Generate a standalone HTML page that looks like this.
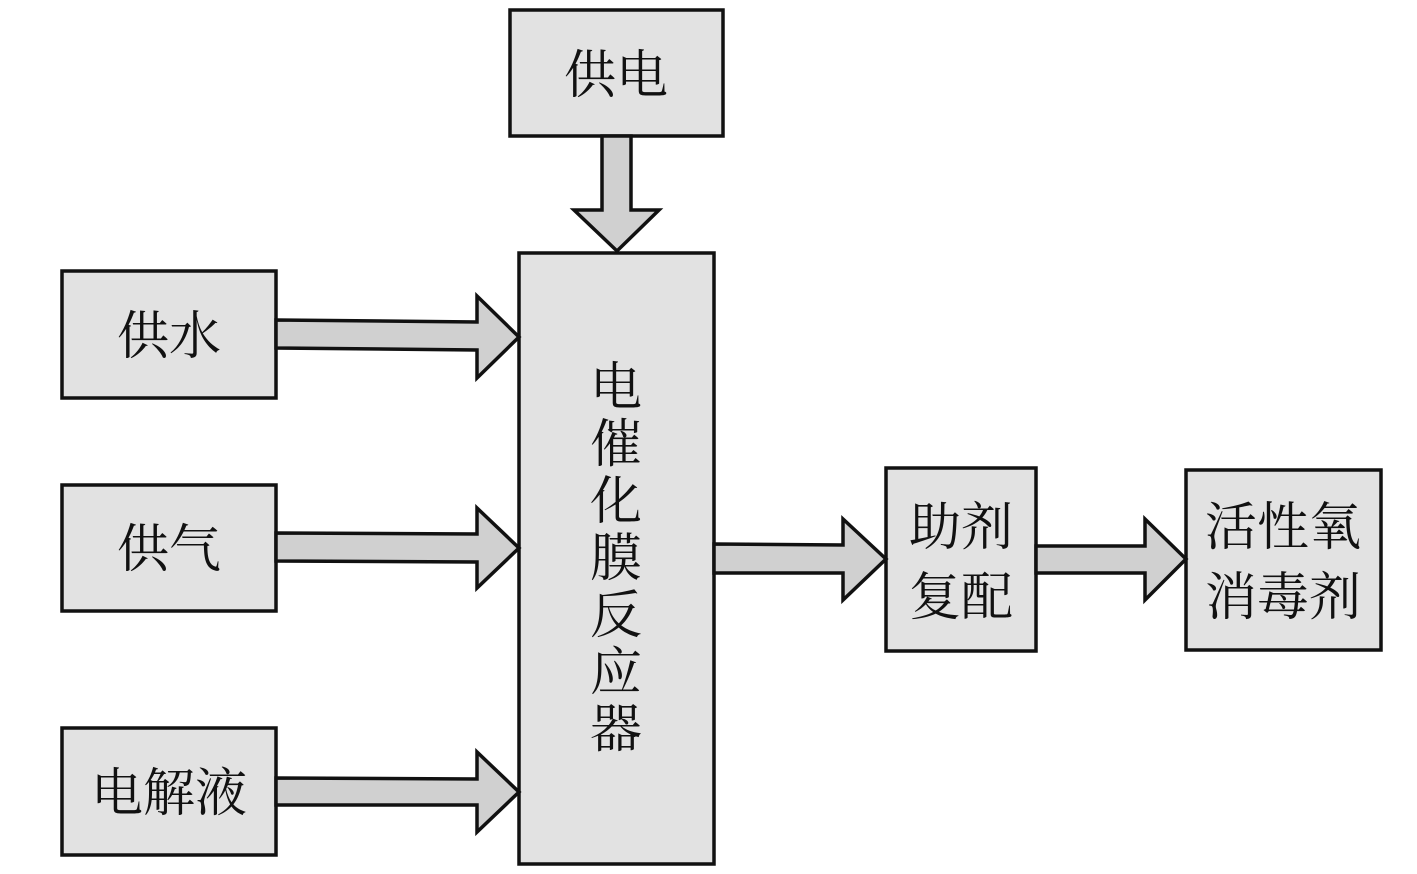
<!DOCTYPE html>
<html><head><meta charset="utf-8"><style>
html,body{margin:0;padding:0;background:#fff;width:1417px;height:874px;overflow:hidden}
text{font-family:"Liberation Serif","Noto Serif CJK SC",serif;font-size:52px;fill:#111}
</style></head><body>
<svg width="1417" height="874" viewBox="0 0 1417 874" xmlns="http://www.w3.org/2000/svg">
<g stroke="#111" stroke-width="3.5" stroke-linejoin="miter">
<rect x="510" y="10" width="213" height="126" fill="#e2e2e2"/>
<rect x="519" y="253" width="195" height="611" fill="#e2e2e2"/>
<rect x="62" y="271" width="214" height="127" fill="#e2e2e2"/>
<rect x="62" y="485" width="214" height="126" fill="#e2e2e2"/>
<rect x="62" y="728" width="214" height="127" fill="#e2e2e2"/>
<rect x="886" y="468" width="150" height="183" fill="#e2e2e2"/>
<rect x="1186" y="470" width="195" height="180" fill="#e2e2e2"/>
<!-- down arrow -->
<polygon points="602,136 631,136 631,210 659,210 617,251 574,210 602,210" fill="#d0d0d0"/>
<!-- left arrows -->
<polygon points="276,320 477,322 477,296 519,337 477,378 477,350 276,348" fill="#d0d0d0"/>
<polygon points="276,533 477,534 477,508 519,548 477,588 477,562 276,561" fill="#d0d0d0"/>
<polygon points="276,778 477,779 477,752 519,792 477,832 477,805 276,805" fill="#d0d0d0"/>
<!-- output arrows -->
<polygon points="714,544 843,545 843,519 886,559 843,600 843,573 714,573" fill="#d0d0d0"/>
<polygon points="1036,546 1145,546 1145,519 1186,559 1145,600 1145,573 1036,573" fill="#d0d0d0"/>
</g>
<text x="616" y="93" text-anchor="middle">供电</text>
<text x="169" y="354" text-anchor="middle">供水</text>
<text x="169" y="567" text-anchor="middle">供气</text>
<text x="169" y="811" text-anchor="middle">电解液</text>
<g text-anchor="middle">
<text x="616" y="405">电</text>
<text x="616" y="462">催</text>
<text x="616" y="519">化</text>
<text x="616" y="576">膜</text>
<text x="616" y="633">反</text>
<text x="616" y="690">应</text>
<text x="616" y="747">器</text>
</g>
<text x="961" y="545" text-anchor="middle">助剂</text>
<text x="961" y="615" text-anchor="middle">复配</text>
<text x="1283" y="545" text-anchor="middle">活性氧</text>
<text x="1283" y="615" text-anchor="middle">消毒剂</text>
</svg>
</body></html>
